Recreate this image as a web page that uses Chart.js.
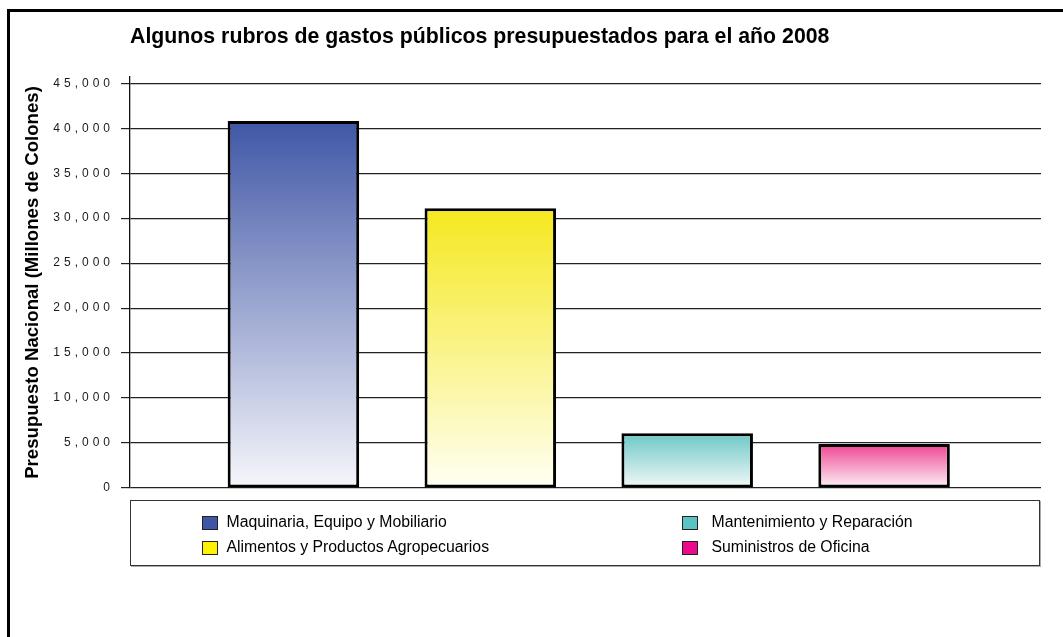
<!DOCTYPE html>
<html>
<head>
<meta charset="utf-8">
<script src="https://cdn.jsdelivr.net/npm/chart.js@4"></script>
<style>
  html, body { margin: 0; padding: 0; background: #fff; }
  body { width: 1063px; height: 637px; position: relative; overflow: hidden; font-family: "Liberation Sans", Arial, sans-serif; }
  #frame { position: absolute; left: 7px; top: 9px; width: 1200px; height: 800px; border-top: 3px solid #000; border-left: 3px solid #000; box-sizing: border-box; }
  #wrap { position: absolute; left: 0; top: 0; width: 1063px; height: 637px; }
  #legend { position: absolute; left: 130px; top: 500px; width: 910px; height: 66px; box-sizing: border-box; border: 1.5px solid #333; box-shadow: 1px 1px 0 #aaa; }
  .item { position: absolute; font-size: 15.8px; color: #000; line-height: 18px; white-space: nowrap; }
  .sw { position: absolute; width: 14px; height: 12px; border: 1.5px solid #222; box-sizing: content-box; }
</style>
</head>
<body>
<div id="frame"></div>
<div id="wrap"><canvas id="c" width="1063" height="637"></canvas></div>
<div id="legend"></div>
<script>
// ---- data ----
const categories = [
  "Maquinaria, Equipo y Mobiliario",
  "Alimentos y Productos Agropecuarios",
  "Mantenimiento y Reparación",
  "Suministros de Oficina"
];
const values = [40800, 31100, 6100, 4900];
const tickLabels = ["0", "5,000", "10,000", "15,000", "20,000", "25,000", "30,000", "35,000", "40,000", "45,000"];
const tickValues = [0, 5000, 10000, 15000, 20000, 25000, 30000, 35000, 40000, 45000];
const categoryPositions = [1, 2, 3, 4];
const chartTitle = "Algunos rubros de gastos públicos presupuestados para el año 2008";
const yTitle = "Presupuesto Nacional (Millones de Colones)";

// ---- styles ----
const topColors = ["#4057A6", "#F5E81E", "#6CC7C7", "#EE4391"];
const bottomColors = ["#F6F6FB", "#FFFFF4", "#F2F9F7", "#FEF3F8"];
const legendColors = ["#3F55A5", "#FFF200", "#5CC3C3", "#EC0A8C"];

// legend (HTML, two columns, column-wise order)
const legendPos = [
  {bx: 72, tx: 97, y: 22},
  {bx: 72, tx: 97, y: 47},
  {bx: 552, tx: 582, y: 22},
  {bx: 552, tx: 582, y: 47}
];
const lg = document.getElementById('legend');
categories.forEach((name, i) => {
  const p = legendPos[i];
  const sw = document.createElement('div');
  sw.className = 'sw';
  sw.style.left = (p.bx - 1.5) + 'px';
  sw.style.top = (p.y - 7.5) + 'px';
  sw.style.background = legendColors[i];
  lg.appendChild(sw);
  const t = document.createElement('div');
  t.className = 'item';
  t.style.left = (p.tx - 1.5) + 'px';
  t.style.top = (p.y - 10.5) + 'px';
  t.textContent = name;
  lg.appendChild(t);
});

const spacingPlugin = {
  id: 'spacing',
  beforeDraw(c) { c.ctx.letterSpacing = '0px'; },
  afterDatasetsDraw(c) { c.ctx.letterSpacing = '4px'; },
  afterDraw(c) { c.ctx.letterSpacing = '0px'; }
};

const ctx = document.getElementById('c').getContext('2d');
new Chart(ctx, {
  type: 'bar',
  data: {
    datasets: [{
      label: 'Presupuesto',
      data: values.map((v, i) => ({x: categoryPositions[i], y: v})),
      backgroundColor: (c) => {
        const i = c.dataIndex;
        const chart = c.chart;
        if (!chart.chartArea || !chart.scales.y || i === undefined) return topColors[i || 0];
        const y = chart.scales.y;
        const g = chart.ctx.createLinearGradient(0, y.getPixelForValue(values[i]), 0, y.getPixelForValue(0));
        g.addColorStop(0, topColors[i]);
        g.addColorStop(1, bottomColors[i]);
        return g;
      },
      borderColor: '#000',
      borderWidth: 3,
      borderSkipped: false,
      barPercentage: 1,
      categoryPercentage: 0.668
    }]
  },
  options: {
    responsive: false,
    animation: false,
    events: [],
    layout: { padding: { left: 22, right: 22, top: 8, bottom: 149 }, autoPadding: false },
    plugins: {
      legend: { display: false },
      tooltip: { enabled: false },
      title: {
        display: true,
        text: chartTitle,
        align: 'start',
        fullSize: false,
        color: '#000',
        font: { family: '"Liberation Sans", Arial, sans-serif', size: 21.3, weight: 'bold' },
        padding: { top: 16, bottom: 27.4 }
      }
    },
    scales: {
      x: {
        type: 'linear',
        display: false,
        offset: false,
        min: 0.17,
        max: 4.797,
        afterBuildTicks: (s) => { s.ticks = categoryPositions.map(v => ({value: v})); },
        grid: { display: false }
      },
      y: {
        type: 'linear',
        min: 0,
        max: 45700,
        afterBuildTicks: (s) => { s.ticks = tickValues.map(v => ({value: v})); },
        afterFit: (s) => { s.width = 108; },
        ticks: {
          z: 1,
          padding: 7,
          color: '#1a1a1a',
          font: { family: '"Liberation Sans", Arial, sans-serif', size: 12 },
          callback: (v) => { const k = tickValues.indexOf(v); return k >= 0 ? tickLabels[k] : ''; }
        },
        grid: { color: '#222', lineWidth: 1.2, tickLength: 9, drawTicks: true },
        border: { display: true, color: '#111', width: 1.3 },
        title: {
          display: true,
          text: yTitle,
          color: '#000',
          font: { family: '"Liberation Sans", Arial, sans-serif', size: 18.6, weight: 'bold' },
          padding: { top: 0, bottom: 0 }
        }
      }
    }
  },
  plugins: [spacingPlugin]
});
</script>
</body>
</html>
